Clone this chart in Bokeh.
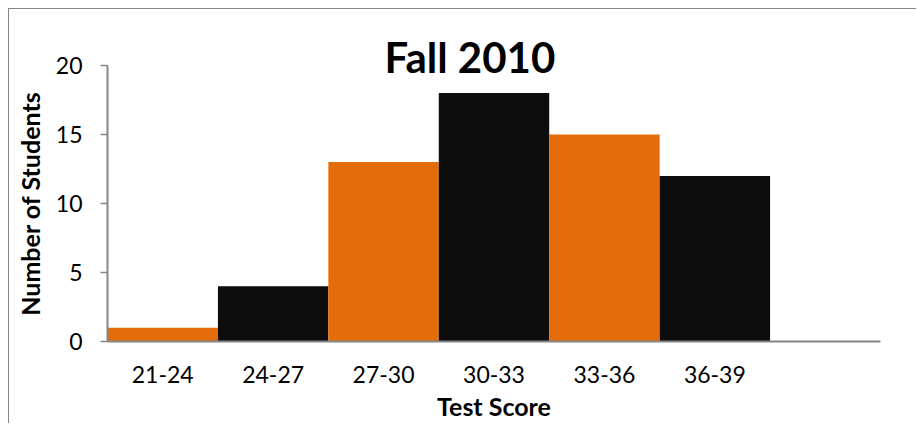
import numpy as np
from bokeh.plotting import figure
from bokeh.models import ColumnDataSource, FixedTicker, Range1d
from bokeh.embed import file_html
from bokeh.resources import INLINE

categories = ["21-24", "24-27", "27-30", "30-33", "33-36", "36-39"]
counts = [1, 4, 13, 18, 15, 12]
colors = ["#E46C0A", "#0D0D0D", "#E46C0A", "#0D0D0D", "#E46C0A", "#0D0D0D"]
y_ticks = [0, 5, 10, 15, 20]
y_max = 20
title_text = "Fall 2010"
x_label = "Test Score"
y_label = "Number of Students"

n_slots = len(categories) + 1
centers = np.arange(len(categories)) + 0.5

src = ColumnDataSource(dict(x=centers, top=counts, color=colors, cat=categories))

# layout (canvas pixels)
W, H = 908, 415
frame_left, frame_right = 98, 871
frame_top, frame_bottom = 56, 332

p = figure(width=W, height=H, output_backend="svg", toolbar_location=None,
           x_range=Range1d(0, n_slots), y_range=Range1d(0, y_max),
           min_border_left=frame_left, min_border_right=W - frame_right,
           min_border_top=frame_top, min_border_bottom=H - frame_bottom)
p.styles = {"margin-left": "8px", "margin-top": "8px",
            "border-top": "1px solid #868686", "border-left": "1px solid #868686"}
p.outline_line_color = None
p.grid.visible = False
p.background_fill_color = "white"
p.border_fill_color = "white"

p.vbar(x="x", top="top", width=1.0, bottom=0, fill_color="color", line_color=None, source=src)

font = "Lato"
axis_col = "#868686"

# title sits partly inside the plot area, as in the reference
p.title.text = title_text
p.title.text_font = font
p.title.text_font_style = "bold"
p.title.text_font_size = "42px"
p.title.text_color = "#000000"
p.title.align = "left"
p.title.offset = 277
p.title.vertical_align = "bottom"
p.title.standoff = -32

xa = p.xaxis[0]
xa.ticker = FixedTicker(ticks=list(centers))
xa.major_label_overrides = {float(c): cat for c, cat in zip(centers, categories)}
xa.major_tick_line_color = None
xa.minor_tick_line_color = None
xa.axis_line_color = axis_col
xa.axis_line_width = 2
xa.major_label_text_font = font
xa.major_label_text_font_size = "23px"
xa.major_label_text_color = "#000000"
xa.major_label_standoff = 18
xa.axis_label = x_label
xa.axis_label_text_font = font
xa.axis_label_text_font_style = "bold"
xa.axis_label_text_font_size = "25px"
xa.axis_label_text_color = "#000000"
xa.axis_label_standoff = 5

ya = p.yaxis[0]
ya.ticker = FixedTicker(ticks=y_ticks)
ya.minor_tick_line_color = None
ya.axis_line_color = axis_col
ya.axis_line_width = 2
ya.major_tick_line_color = axis_col
ya.major_tick_line_width = 1.5
ya.major_tick_in = 0
ya.major_tick_out = 7
ya.major_label_text_font = font
ya.major_label_text_font_size = "23px"
ya.major_label_text_color = "#000000"
ya.major_label_standoff = 18
ya.axis_label = y_label
ya.axis_label_text_font = font
ya.axis_label_text_font_style = "bold"
ya.axis_label_text_font_size = "25px"
ya.axis_label_text_color = "#000000"
ya.axis_label_standoff = 8

open("out.html", "w").write(file_html(p, INLINE))
